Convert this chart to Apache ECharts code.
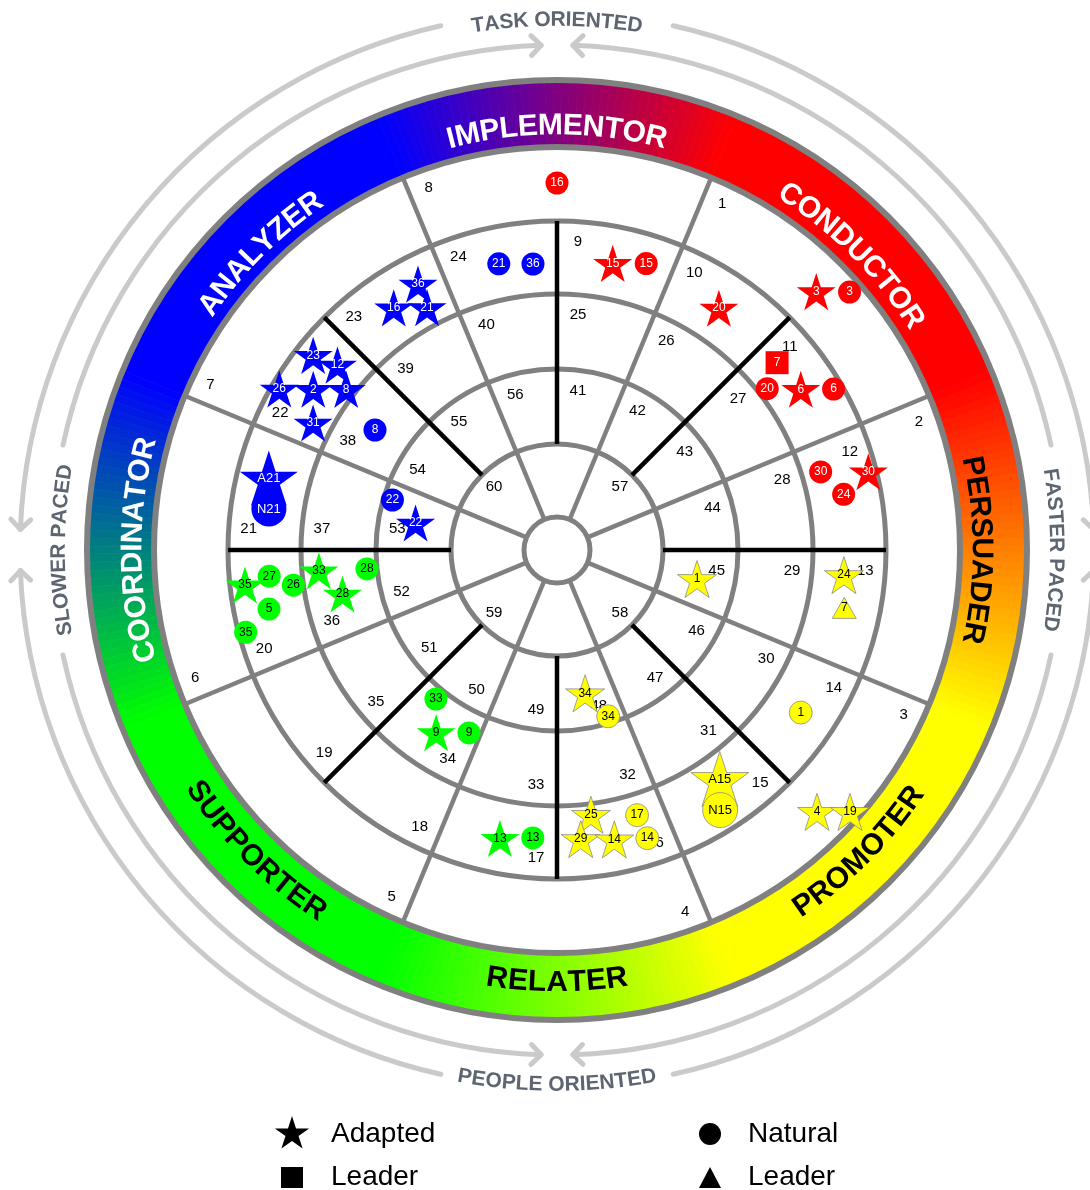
<!DOCTYPE html>
<html>
<head>
<meta charset="utf-8">
<title>Behaviour wheel</title>
<script src="https://cdn.jsdelivr.net/npm/echarts@6.0.0/dist/echarts.min.js"></script>
<style>
    html, body {margin: 0; padding: 0; background: #ffffff;}
    #main {width: 1090px; height: 1190px;}
</style>
</head>
<body>
<div id="main"></div>
<script>
// wheel segments, counter-clockwise from the right
const bandNames = ['PERSUADER', 'CONDUCTOR', 'IMPLEMENTOR', 'ANALYZER', 'COORDINATOR', 'SUPPORTER', 'RELATER', 'PROMOTER'];
const bandAngles = [0, 45, 90, 135, 180, 225, 270, 315];
const bandSolid = [null, '#ff0000', null, '#0000ff', null, '#00ff00', null, '#ffff00'];
const bandInk = ['#000000', '#ffffff', '#ffffff', '#ffffff', '#ffffff', '#000000', '#000000', '#000000'];

// cell numbers, clockwise, outer ring first
const outerCells = [1, 2, 3, 4, 5, 6, 7, 8];
const ring2Cells = [9, 10, 11, 12, 13, 14, 15, 16, 17, 18, 19, 20, 21, 22, 23, 24];
const ring3Cells = [25, 26, 27, 28, 29, 30, 31, 32, 33, 34, 35, 36, 37, 38, 39, 40];
const ring4Cells = [41, 42, 43, 44, 45, 46, 47, 48, 49, 50, 51, 52, 53, 54, 55, 56];
const innerCells = [57, 58, 59, 60];

const guideTitles = ['TASK ORIENTED', 'FASTER PACED', 'PEOPLE ORIENTED', 'SLOWER PACED'];
const guideAngles = [90, 0, 270, 180];

// markers: [radius, angle, label, colour]
const adaptedPoints = [
    [292, 124.0, '16', 'blue'], [275, 118.2, '21', 'blue'], [300, 117.6, '36', 'blue'],
    [312, 141.4, '23', 'blue'], [287, 139.9, '12', 'blue'], [321, 149.9, '26', 'blue'],
    [292, 146.6, '2', 'blue'], [265, 142.7, '8', 'blue'], [275, 152.5, '31', 'blue'], [144, 169.2, '22', 'blue'],
    [292, 79.0, '15', 'red'], [291, 56.2, '20', 'red'], [366, 44.9, '3', 'red'], [292, 33.4, '6', 'red'], [321, 14.1, '30', 'red'],
    [143, 348.3, '1', 'yellow'], [288, 355.0, '24', 'yellow'], [146, 281.1, '34', 'yellow'], [267, 277.3, '25', 'yellow'],
    [290, 274.7, '29', 'yellow'], [295, 281.2, '14', 'yellow'], [369, 314.8, '4', 'yellow'], [393, 318.2, '19', 'yellow'],
    [314, 186.4, '35', 'green'], [239, 185.0, '33', 'green'], [219, 191.6, '28', 'green'], [219, 236.5, '9', 'green'], [294, 258.8, '13', 'green']
];
const naturalPoints = [
    [292, 101.5, '21', 'blue'], [287, 94.8, '36', 'blue'], [172, 163.1, '22', 'blue'], [218, 146.6, '8', 'blue'],
    [367, 90.0, '16', 'red'], [300, 72.7, '15', 'red'], [390, 41.4, '3', 'red'], [265, 37.5, '20', 'red'],
    [320, 30.2, '6', 'red'], [275, 16.5, '30', 'red'], [292, 11.0, '24', 'red'],
    [174, 287.1, '34', 'yellow'], [293, 326.3, '1', 'yellow'], [277, 286.8, '17', 'yellow'], [302, 287.4, '14', 'yellow'],
    [289, 185.2, '27', 'green'], [266, 187.6, '26', 'green'], [191, 185.7, '28', 'green'], [294, 191.6, '5', 'green'],
    [322, 194.8, '35', 'green'], [192, 230.9, '33', 'green'], [203, 244.3, '9', 'green'], [289, 265.2, '13', 'green']
];
const adaptedLeaders = [[289, 40.4, '7', 'red']];
const naturalLeaders = [[293, 348.6, '7', 'yellow']];
const adaptedLarge = [[297, 166.0, 'A21', 'blue'], [281, 305.4, 'A15', 'yellow']];
const naturalLarge = [[291, 171.9, 'N21', 'blue'], [307, 302.1, 'N15', 'yellow']];

const FONT = '"Liberation Sans", Arial, sans-serif';
const GRID = '#808080';
const GUIDE = '#cacaca';
const TITLE = '#5d6570';
const palette = {red: '#ff0000', blue: '#0000ff', green: '#00ff00', yellow: '#ffff00'};
const ink = {red: '#ffffff', blue: '#ffffff', green: '#000000', yellow: '#000000'};

const ringEdges = [33, 106, 181, 256, 329];
const bandIn = 403;
const bandOut = 470;

const rad = d => d * Math.PI / 180;
const deg = r => r * 180 / Math.PI;
const measure = document.createElement('canvas').getContext('2d');

function starPoints(cx, cy, R) {
    const pts = [];
    for (let i = 0; i < 10; i++) {
        const r = i % 2 ? R * 0.382 : R;
        const a = -Math.PI / 2 + i * Math.PI / 5;
        pts.push([cx + r * Math.cos(a), cy + r * Math.sin(a)]);
    }
    return pts;
}
const starPath = 'path://' + starPoints(50, 50, 50).map((p, i) => (i ? 'L' : 'M') + p[0].toFixed(2) + ' ' + p[1].toFixed(2)).join(' ') + ' Z';

function mix(c1, c2, t) {
    const a = [1, 3, 5].map(i => parseInt(c1.substr(i, 2), 16));
    const b = [1, 3, 5].map(i => parseInt(c2.substr(i, 2), 16));
    return 'rgb(' + a.map((v, i) => Math.round(v + (b[i] - v) * t)).join(',') + ')';
}

// colour slices of the outer band
const slices = [];
bandAngles.forEach((a, i) => {
    if (bandSolid[i]) {
        slices.push({a0: a - 22.5, a1: a + 22.5, color: bandSolid[i]});
        return;
    }
    const lo = bandSolid[(i + 7) % 8], hi = bandSolid[(i + 1) % 8];
    for (let k = 0; k < 45; k++) {
        slices.push({a0: a - 22.5 + k, a1: a - 21.5 + k, color: mix(lo, hi, (k + 0.5) / 45)});
    }
});

// number labels of the cells
const cellLabels = [];
outerCells.forEach((n, i) => {
    const r = bandIn - 19;
    cellLabels.push({text: String(n), r: r, a: 67.5 - 45 * i - deg(20 / r)});
});
[[ring2Cells, 329], [ring3Cells, 256], [ring4Cells, 181]].forEach(([cells, edge]) => {
    cells.forEach((n, i) => {
        const r = edge - 20;
        cellLabels.push({text: String(n), r: r, a: 90 - 22.5 * i - deg(21 / r)});
    });
});
innerCells.forEach((n, i) => cellLabels.push({text: String(n), r: 89, a: 45 - 90 * i}));

const spokes = [];
for (let k = 0; k < 8; k++) spokes.push({a: 22.5 + 45 * k, r0: 33, r1: bandIn, color: GRID});
for (let k = 0; k < 8; k++) spokes.push({a: 45 * k, r0: 106, r1: 329, color: '#000000'});

const circles = ringEdges.map(r => ({r: r, w: 5})).concat([{r: bandIn, w: 6}, {r: bandOut, w: 6}]);

// grey arrows round the wheel, arrow head at "to"
const guideArcs = [
    {r: 537, from: 102.5, to: 177.8}, {r: 537, from: 257.5, to: 182.2},
    {r: 537, from: 77.5, to: 2.2}, {r: 537, from: 282.5, to: 357.8},
    {r: 505, from: 168, to: 91.8}, {r: 505, from: 12, to: 88.2},
    {r: 505, from: 192, to: 268.2}, {r: 505, from: 348, to: 271.8}
];
const guideRadius = [530, 499, 535, 498];

function pixR(params, api, r) {
    const p = api.coord([r, 0]);
    return Math.hypot(p[0] - params.coordSys.cx, p[1] - params.coordSys.cy);
}

function curved(params, api, text, r, center, opt) {
    const cx = params.coordSys.cx, cy = params.coordSys.cy;
    const R = pixR(params, api, r);
    measure.font = 'bold ' + opt.size + 'px ' + FONT;
    const chars = Array.from(text);
    const ws = chars.map(c => measure.measureText(c).width);
    const sp = opt.spacing || 0;
    const total = ws.reduce((s, w) => s + w, 0) + sp * (chars.length - 1);
    const dir = opt.inward ? 1 : -1;
    let off = 0;
    return chars.map((c, i) => {
        const mid = off + ws[i] / 2;
        off += ws[i] + sp;
        const phi = rad(center) + dir * (mid - total / 2) / R;
        return {
            type: 'text',
            x: cx + R * Math.cos(phi),
            y: cy - R * Math.sin(phi),
            rotation: opt.inward ? phi + Math.PI / 2 : phi - Math.PI / 2,
            style: {
                text: c, fill: opt.color, fontSize: opt.size, fontWeight: 'bold', fontFamily: FONT,
                align: 'center', verticalAlign: 'middle'
            }
        };
    });
}

function markerData(list) {
    return list.map(d => ({
        value: [d[0], d[1]],
        name: d[2],
        itemStyle: {
            color: palette[d[3]],
            opacity: 1,
            borderColor: d[3] === 'yellow' ? '#8a8a8a' : palette[d[3]],
            borderWidth: d[3] === 'yellow' ? 0.8 : 0
        },
        label: {color: ink[d[3]]}
    }));
}

function markerSeries(name, list, symbol, size, fontSize, z) {
    return {
        type: 'scatter',
        name: name,
        coordinateSystem: 'polar',
        symbol: symbol,
        symbolSize: size,
        symbolKeepAspect: true,
        itemStyle: {opacity: 1},
        data: markerData(list),
        label: {show: true, position: 'inside', formatter: '{b}', fontSize: fontSize, fontFamily: FONT},
        silent: true,
        z: z
    };
}

const chart = echarts.init(document.getElementById('main'));
chart.setOption({
    animation: false,
    polar: {center: [557, 550], radius: 540},
    radiusAxis: {type: 'value', min: 0, max: 540, show: false, axisLine: {show: false}, axisTick: {show: false}, axisLabel: {show: false}, splitLine: {show: false}},
    angleAxis: {type: 'value', min: 0, max: 360, startAngle: 0, clockwise: false, show: false, axisLine: {show: false}, axisTick: {show: false}, axisLabel: {show: false}, splitLine: {show: false}},
    series: [
        {
            type: 'custom',
            name: 'band',
            coordinateSystem: 'polar',
            silent: true,
            z: 1,
            data: slices.map(s => [bandOut, (s.a0 + s.a1) / 2]),
            renderItem: (params, api) => {
                const s = slices[params.dataIndex];
                return {
                    type: 'sector',
                    shape: {
                        cx: params.coordSys.cx, cy: params.coordSys.cy,
                        r0: pixR(params, api, bandIn), r: pixR(params, api, bandOut),
                        startAngle: -rad(s.a1), endAngle: -rad(s.a0), clockwise: true
                    },
                    style: {fill: s.color, stroke: s.color, lineWidth: 0.8}
                };
            }
        },
        {
            type: 'custom',
            name: 'rings',
            coordinateSystem: 'polar',
            silent: true,
            z: 2,
            data: circles.map(c => [c.r, 0]),
            renderItem: (params, api) => {
                const c = circles[params.dataIndex];
                return {
                    type: 'circle',
                    shape: {cx: params.coordSys.cx, cy: params.coordSys.cy, r: pixR(params, api, c.r)},
                    style: {fill: c.r === 33 ? '#ffffff' : 'none', stroke: GRID, lineWidth: c.w}
                };
            }
        },
        {
            type: 'custom',
            name: 'spokes',
            coordinateSystem: 'polar',
            silent: true,
            z: 3,
            data: spokes.map(s => [s.r1, s.a]),
            renderItem: (params, api) => {
                const s = spokes[params.dataIndex];
                const p0 = api.coord([s.r0, s.a]), p1 = api.coord([s.r1, s.a]);
                return {
                    type: 'line',
                    shape: {x1: p0[0], y1: p0[1], x2: p1[0], y2: p1[1]},
                    style: {stroke: s.color, lineWidth: 4.5}
                };
            }
        },
        {
            type: 'custom',
            name: 'cells',
            coordinateSystem: 'polar',
            silent: true,
            z: 4,
            data: cellLabels.map(c => [c.r, c.a]),
            renderItem: (params, api) => {
                const c = cellLabels[params.dataIndex];
                const p = api.coord([c.r, c.a]);
                return {
                    type: 'text',
                    x: p[0], y: p[1],
                    style: {text: c.text, fill: '#000000', fontSize: 15, fontFamily: FONT, align: 'center', verticalAlign: 'middle'}
                };
            }
        },
        {
            type: 'custom',
            name: 'bandNames',
            coordinateSystem: 'polar',
            silent: true,
            z: 12,
            data: bandNames.map((n, i) => [436, bandAngles[i]]),
            renderItem: (params, api) => {
                const i = params.dataIndex;
                const inward = bandAngles[i] > 200 && bandAngles[i] < 340;
                return {
                    type: 'group',
                    children: curved(params, api, bandNames[i], inward ? 433 : 424, bandAngles[i],
                        {size: 30, color: bandInk[i], inward: inward})
                };
            }
        },
        {
            type: 'custom',
            name: 'guides',
            coordinateSystem: 'polar',
            silent: true,
            z: 2,
            data: guideArcs.map(g => [g.r, g.to]),
            renderItem: (params, api) => {
                const g = guideArcs[params.dataIndex];
                const cx = params.coordSys.cx, cy = params.coordSys.cy;
                const R = pixR(params, api, g.r);
                const tip = api.coord([g.r, g.to]);
                const t = rad(g.to);
                const sgn = g.to > g.from ? 1 : -1;
                const back = [sgn * Math.sin(t), sgn * Math.cos(t)];
                const arm = (phi) => [
                    tip[0] + 14 * (back[0] * Math.cos(phi) - back[1] * Math.sin(phi)),
                    tip[1] + 14 * (back[0] * Math.sin(phi) + back[1] * Math.cos(phi))
                ];
                const line = {stroke: GUIDE, lineWidth: 5, fill: 'none', lineCap: 'round', lineJoin: 'round'};
                return {
                    type: 'group',
                    children: [
                        {
                            type: 'arc',
                            shape: {cx: cx, cy: cy, r: R, startAngle: -rad(Math.max(g.from, g.to)), endAngle: -rad(Math.min(g.from, g.to)), clockwise: true},
                            style: line
                        },
                        {type: 'polyline', shape: {points: [arm(rad(45)), tip, arm(rad(-45))]}, style: line}
                    ]
                };
            }
        },
        {
            type: 'custom',
            name: 'guideTitles',
            coordinateSystem: 'polar',
            silent: true,
            z: 2,
            data: guideTitles.map((t, i) => [guideRadius[i], guideAngles[i]]),
            renderItem: (params, api) => {
                const i = params.dataIndex;
                return {
                    type: 'group',
                    children: curved(params, api, guideTitles[i], guideRadius[i], guideAngles[i],
                        {size: 21, color: TITLE, inward: guideAngles[i] === 270})
                };
            }
        },
        markerSeries('Adapted', adaptedPoints, starPath, 39, 12, 6),
        markerSeries('Adapted Leader', adaptedLeaders, 'rect', 23, 12, 7),
        markerSeries('Natural Leader', naturalLeaders, 'triangle', [24, 21], 12, 7),
        markerSeries('Natural', naturalPoints, 'circle', 23, 12, 8),
        markerSeries('Adapted large', adaptedLarge, starPath, 58, 13, 9),
        markerSeries('Natural large', naturalLarge, 'circle', 35, 13, 10)
    ],
    graphic: [
        {type: 'polygon', shape: {points: starPoints(292, 1134, 18)}, style: {fill: '#000000'}},
        {type: 'text', x: 331, y: 1134, style: {text: 'Adapted', fontSize: 28, fontFamily: FONT, fill: '#000000', verticalAlign: 'middle'}},
        {type: 'rect', shape: {x: 281, y: 1167, width: 22, height: 21}, style: {fill: '#000000'}},
        {type: 'text', x: 331, y: 1177, style: {text: 'Leader', fontSize: 28, fontFamily: FONT, fill: '#000000', verticalAlign: 'middle'}},
        {type: 'circle', shape: {cx: 710, cy: 1134, r: 11}, style: {fill: '#000000'}},
        {type: 'text', x: 748, y: 1134, style: {text: 'Natural', fontSize: 28, fontFamily: FONT, fill: '#000000', verticalAlign: 'middle'}},
        {type: 'polygon', shape: {points: [[699, 1188], [721, 1188], [710, 1167]]}, style: {fill: '#000000'}},
        {type: 'text', x: 748, y: 1177, style: {text: 'Leader', fontSize: 28, fontFamily: FONT, fill: '#000000', verticalAlign: 'middle'}}
    ]
});
</script>
</body>
</html>
